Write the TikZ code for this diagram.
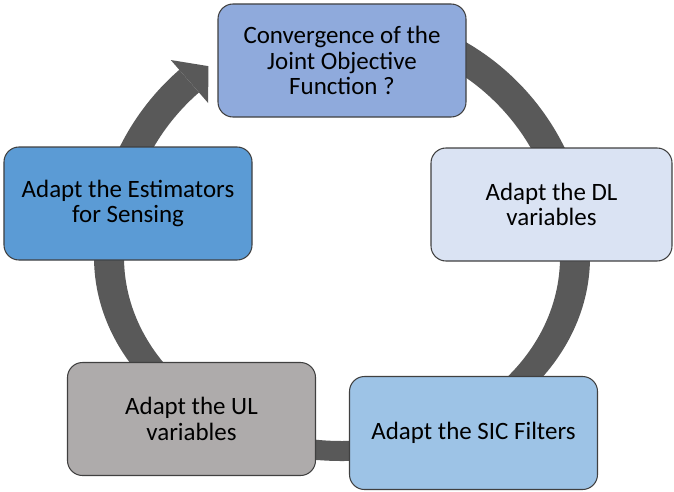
\documentclass[tikz,border=0pt]{standalone}
\usepackage{fontspec}
\setmainfont{Carlito}
\usetikzlibrary{positioning}

\definecolor{ringgray}{RGB}{89,89,89}
\definecolor{convblue}{RGB}{143,170,220}
\definecolor{estblue}{RGB}{91,155,213}
\definecolor{dlblue}{RGB}{218,227,243}
\definecolor{ulgray}{RGB}{174,171,171}
\definecolor{sicblue}{RGB}{157,195,230}

\begin{document}
\begin{tikzpicture}[x=0.2mm,y=0.2mm,
    stage/.style={draw=black!75,line width=0.6pt,rounded corners=0.3cm,
      align=center,minimum width=4.96cm,minimum height=2.26cm,inner sep=2pt,
      font=\fontsize{14.2}{14.4}\selectfont}]
\useasboundingbox (0,0) rectangle (674,491);
\coordinate (c) at (342,234);
% the cycle arrow
\fill[ringgray] ([shift={(131:4.96cm)}]c)
    arc[start angle=131,end angle=180,radius=4.96cm]
    arc[start angle=180,end angle=360,x radius=4.96cm,y radius=4.08cm]
    arc[start angle=0,end angle=75,radius=4.96cm]
    -- ([shift={(75:4.36cm)}]c)
    arc[start angle=75,end angle=0,radius=4.36cm]
    arc[start angle=360,end angle=180,x radius=4.36cm,y radius=3.68cm]
    arc[start angle=180,end angle=131,radius=4.36cm] -- cycle;
\fill[ringgray] ([shift={(131:5.22cm)}]c) -- ([shift={(125:4.66cm)}]c)
    -- ([shift={(131:4.08cm)}]c) -- cycle;
% the stages
\node[stage,fill=convblue] (conv) at (342,430.5)
    {Convergence of the\\Joint Objective\\Function ?};
\node[stage,fill=dlblue,minimum width=4.82cm] (dl) at (551.5,286.5)
    {Adapt the DL\\variables};
\node[stage,fill=sicblue] (sic) at (473.5,58) {Adapt the SIC Filters};
\node[stage,fill=ulgray] (ul) at (191.5,72) {Adapt the UL\\variables};
\node[stage,fill=estblue] (est) at (128,287.5)
    {Adapt the Estimators\\for Sensing};
\end{tikzpicture}
\end{document}
